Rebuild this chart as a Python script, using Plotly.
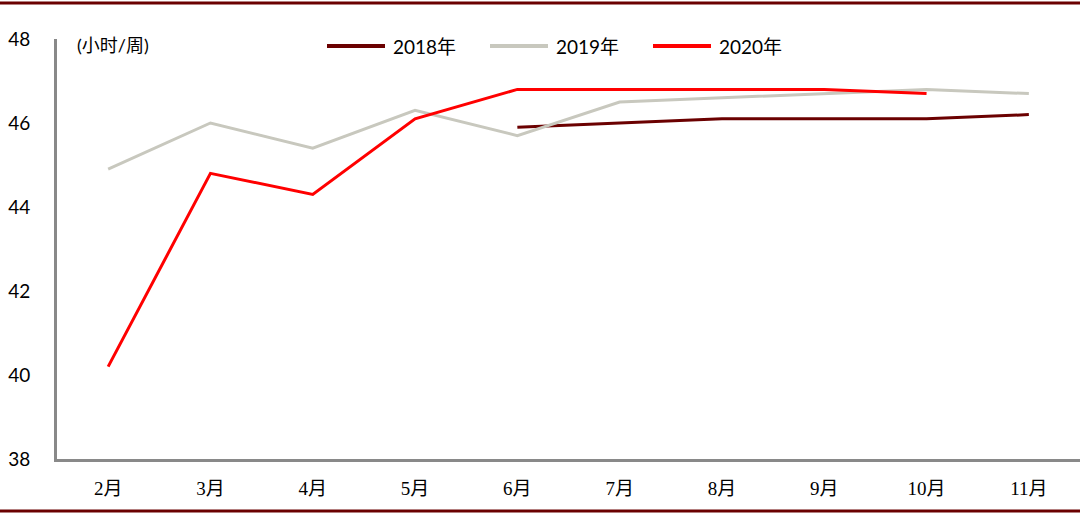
import plotly.graph_objects as go

months = ["2月", "3月", "4月", "5月", "6月", "7月", "8月", "9月", "10月", "11月"]
s2018 = [None, None, None, None, 45.9, 46.0, 46.1, 46.1, 46.1, 46.2]
s2019 = [44.9, 46.0, 45.4, 46.3, 45.7, 46.5, 46.6, 46.7, 46.8, 46.7]
s2020 = [40.2, 44.8, 44.3, 46.1, 46.8, 46.8, 46.8, 46.8, 46.7, None]
series_names = ["2018年", "2019年", "2020年"]
colors = ["#6B0000", "#C8C8BE", "#FF0000"]
y_ticks = [38, 40, 42, 44, 46, 48]

fig = go.Figure()
for name, vals, col in zip(series_names, [s2018, s2019, s2020], colors):
    fig.add_trace(go.Scatter(x=months, y=vals, mode="lines", name=name,
                             line=dict(color=col, width=3), connectgaps=False,
                             showlegend=False))

W, H = 1080, 516
ml, mr, mt, mb = 57, 0, 39, 57
pw, ph = W - ml - mr, H - mt - mb

def px_x(x):
    return (x - ml) / pw

def px_y(y):
    return (H - mb - y) / ph

fig.update_layout(
    width=W, height=H,
    margin=dict(l=ml, r=mr, t=mt, b=mb),
    paper_bgcolor="white", plot_bgcolor="white",
    font=dict(family="Lato, 'Noto Sans CJK SC', sans-serif", size=18, color="#000000"),
    xaxis=dict(type="category", range=[-0.5, 9.5], showgrid=False,
               showline=True, linecolor="#898989", linewidth=3, ticks="",
               tickfont=dict(family="'Liberation Serif', 'Noto Sans CJK SC', serif", size=19),
               ticklabelstandoff=10),
    yaxis=dict(range=[38, 48], tickvals=y_ticks, showgrid=False,
               showline=True, linecolor="#898989", linewidth=3, ticks="",
               tickfont=dict(size=19), ticklabelstandoff=20, zeroline=False),
    showlegend=False,
)

# legend drawn manually (long line samples as in reference)
legend_x0 = [327, 490, 653]
for name, col, x0 in zip(series_names, colors, legend_x0):
    fig.add_shape(type="line", xref="paper", yref="paper",
                  x0=px_x(x0), x1=px_x(x0 + 58), y0=px_y(46), y1=px_y(46),
                  line=dict(color=col, width=4))
    fig.add_annotation(text=name, xref="paper", yref="paper",
                       x=px_x(x0 + 64), y=px_y(46), xanchor="left", yanchor="middle",
                       showarrow=False, font=dict(size=19, color="#000000"))

fig.add_annotation(text="(小时/周)", xref="paper", yref="paper",
                   x=px_x(75), y=px_y(45), xanchor="left", yanchor="middle",
                   showarrow=False, font=dict(size=18, color="#000000"))

# top and bottom border lines
for ypx in [3, 511]:
    fig.add_shape(type="line", xref="paper", yref="paper",
                  x0=px_x(0), x1=1, y0=px_y(ypx), y1=px_y(ypx),
                  line=dict(color="#6B0000", width=3))

fig.write_html("out.html", config={"displayModeBar": False},
               post_script="document.body.style.margin='0';document.body.style.padding='0';")
